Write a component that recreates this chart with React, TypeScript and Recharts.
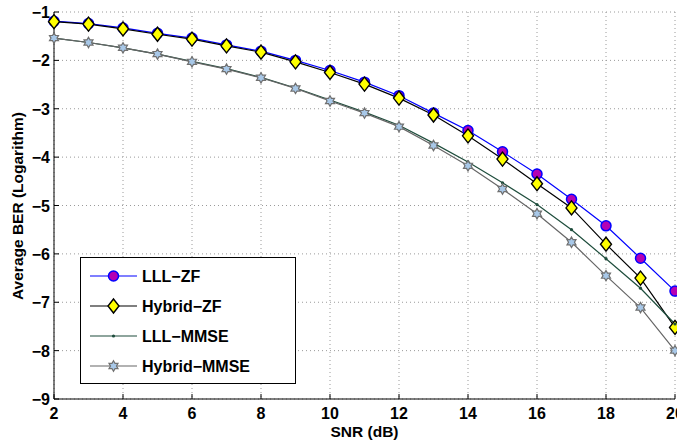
import React from 'react';
import { LineChart, Line, XAxis, YAxis, CartesianGrid } from 'recharts';

const snr = [2, 3, 4, 5, 6, 7, 8, 9, 10, 11, 12, 13, 14, 15, 16, 17, 18, 19, 20];
const lllZF = [-1.19, -1.24, -1.33, -1.44, -1.54, -1.68, -1.81, -2.0, -2.21, -2.45, -2.73, -3.09, -3.45, -3.89, -4.35, -4.87, -5.42, -6.09, -6.77];
const hybridZF = [-1.2, -1.25, -1.35, -1.46, -1.56, -1.7, -1.83, -2.03, -2.25, -2.49, -2.78, -3.13, -3.56, -4.04, -4.55, -5.05, -5.8, -6.5, -7.52];
const lllMMSE = [-1.54, -1.63, -1.74, -1.87, -2.02, -2.17, -2.35, -2.57, -2.82, -3.07, -3.34, -3.71, -4.1, -4.53, -4.98, -5.5, -6.1, -6.71, -7.45];
const hybridMMSE = [-1.54, -1.63, -1.74, -1.87, -2.03, -2.18, -2.36, -2.58, -2.84, -3.09, -3.37, -3.76, -4.18, -4.66, -5.17, -5.76, -6.45, -7.11, -8.0];
const xTicks = [2, 4, 6, 8, 10, 12, 14, 16, 18, 20];
const yTicks = [-9, -8, -7, -6, -5, -4, -3, -2, -1];
const seriesNames = ['LLL\u2212ZF', 'Hybrid\u2212ZF', 'LLL\u2212MMSE', 'Hybrid\u2212MMSE'];

const data = snr.map((s, i) => ({
  snr: s,
  lllZF: lllZF[i],
  hybridZF: hybridZF[i],
  lllMMSE: lllMMSE[i],
  hybridMMSE: hybridMMSE[i],
}));

const FONT = '"Liberation Sans", Arial, Helvetica, sans-serif';

const fmt = (v: number) => (v < 0 ? '\u2212' + Math.abs(v) : String(v));

const CircleMark = ({ cx, cy }: any) => (
  <circle cx={cx} cy={cy} r={5} fill="#B400B4" stroke="#0000FF" strokeWidth={1.5} />
);
const DiamondMark = ({ cx, cy }: any) => (
  <polygon
    points={`${cx},${cy - 7} ${cx + 5.5},${cy} ${cx},${cy + 7} ${cx - 5.5},${cy}`}
    fill="#FFFF00"
    stroke="#000"
    strokeWidth={1.4}
  />
);
const DotMark = ({ cx, cy }: any) => <circle cx={cx} cy={cy} r={1.6} fill="#1E4D3C" />;
const StarMark = ({ cx, cy }: any) => {
  const pts: string[] = [];
  const R = 5.2;
  const r = 3.0;
  for (let k = 0; k < 12; k++) {
    const a = (Math.PI / 6) * k - Math.PI / 2;
    const rr = k % 2 === 0 ? R : r;
    pts.push(`${cx + rr * Math.cos(a)},${cy + rr * Math.sin(a)}`);
  }
  return <polygon points={pts.join(' ')} fill="#A8C8E8" stroke="#707070" strokeWidth={1.2} />;
};

const XTickBottom = ({ x, y, payload }: any) => (
  <g>
    <line x1={x} x2={x} y1={y} y2={y - 5} stroke="#000" />
    <text x={x} y={y + 20} textAnchor="middle" fontFamily={FONT} fontWeight="bold" fontSize={16} fill="#000">
      {fmt(payload.value)}
    </text>
  </g>
);
const XTickTop = ({ x, y }: any) => <line x1={x} x2={x} y1={y} y2={y + 5} stroke="#000" />;
const YTickLeft = ({ x, y, payload }: any) => (
  <g>
    <line x1={x} x2={x + 5} y1={y} y2={y} stroke="#000" />
    <text x={x - 4} y={y + 6} textAnchor="end" fontFamily={FONT} fontWeight="bold" fontSize={16} fill="#000">
      {fmt(payload.value)}
    </text>
  </g>
);
const YTickRight = ({ x, y }: any) => <line x1={x} x2={x - 5} y1={y} y2={y} stroke="#000" />;

const legendRows = [
  { name: seriesNames[0], color: '#0000FF', Mark: CircleMark },
  { name: seriesNames[1], color: '#000000', Mark: DiamondMark },
  { name: seriesNames[2], color: '#1E4D3C', Mark: DotMark },
  { name: seriesNames[3], color: '#666666', Mark: StarMark },
];

export default function App() {
  return (
    <div style={{ position: 'absolute', left: 0, top: 0, width: 677, height: 441, background: '#fff' }}>
      <LineChart width={677} height={441} data={data} margin={{ top: 12, right: 2, bottom: 0, left: 0 }}>
        <CartesianGrid stroke="#9a9a9a" strokeDasharray="1 3" horizontalValues={yTicks} verticalValues={xTicks} />
        <XAxis
          dataKey="snr"
          type="number"
          domain={[2, 20]}
          ticks={xTicks}
          height={42}
          tickSize={0}
          tickMargin={0}
          tickLine={false}
          axisLine={{ stroke: '#000' }}
          tick={<XTickBottom />}
          interval={0}
        />
        <XAxis
          xAxisId="top"
          orientation="top"
          dataKey="snr"
          type="number"
          domain={[2, 20]}
          ticks={xTicks}
          height={0}
          tickSize={0}
          tickMargin={0}
          tickLine={false}
          axisLine={{ stroke: '#000' }}
          tick={<XTickTop />}
          interval={0}
        />
        <YAxis
          type="number"
          domain={[-9, -1]}
          ticks={yTicks}
          width={54}
          tickSize={0}
          tickMargin={0}
          tickLine={false}
          axisLine={{ stroke: '#000' }}
          tick={<YTickLeft />}
          interval={0}
        />
        <YAxis
          yAxisId="right"
          orientation="right"
          type="number"
          domain={[-9, -1]}
          ticks={yTicks}
          width={0}
          tickSize={0}
          tickMargin={0}
          tickLine={false}
          axisLine={{ stroke: '#000' }}
          tick={<YTickRight />}
          interval={0}
        />
        <Line
          dataKey="lllZF"
          stroke="#0000FF"
          strokeWidth={1.2}
          isAnimationActive={false}
          dot={(p: any) => <CircleMark key={'a' + p.index} cx={p.cx} cy={p.cy} />}
        />
        <Line
          dataKey="hybridZF"
          stroke="#000000"
          strokeWidth={1.2}
          isAnimationActive={false}
          dot={(p: any) => <DiamondMark key={'b' + p.index} cx={p.cx} cy={p.cy} />}
        />
        <Line
          dataKey="lllMMSE"
          stroke="#1E4D3C"
          strokeWidth={1.2}
          isAnimationActive={false}
          dot={(p: any) => <DotMark key={'c' + p.index} cx={p.cx} cy={p.cy} />}
        />
        <Line
          dataKey="hybridMMSE"
          stroke="#666666"
          strokeWidth={1.2}
          isAnimationActive={false}
          dot={(p: any) => <StarMark key={'d' + p.index} cx={p.cx} cy={p.cy} />}
        />
      </LineChart>
      <svg
        width={677}
        height={441}
        style={{ position: 'absolute', left: 0, top: 0, pointerEvents: 'none' }}
      >
        <rect x={80.5} y={257.5} width={215} height={126} fill="#fff" stroke="#000" strokeWidth={1} />
        {legendRows.map((row, i) => {
          const cy = 276 + i * 30;
          const M = row.Mark;
          return (
            <g key={row.name}>
              <line x1={90} x2={137} y1={cy} y2={cy} stroke={row.color} strokeWidth={1.2} />
              <M cx={113.5} cy={cy} />
              <text x={142} y={cy + 6} fontFamily={FONT} fontWeight="bold" fontSize={16} fill="#000">
                {row.name}
              </text>
            </g>
          );
        })}
        <text x={364.5} y={437} textAnchor="middle" fontFamily={FONT} fontWeight="bold" fontSize={15.5} fill="#000">
          SNR (dB)
        </text>
        <text
          x={0}
          y={0}
          transform="translate(23,206) rotate(-90)"
          textAnchor="middle"
          fontFamily={FONT}
          fontWeight="bold"
          fontSize={15.5}
          fill="#000"
        >
          Average BER (Logarithm)
        </text>
      </svg>
    </div>
  );
}
